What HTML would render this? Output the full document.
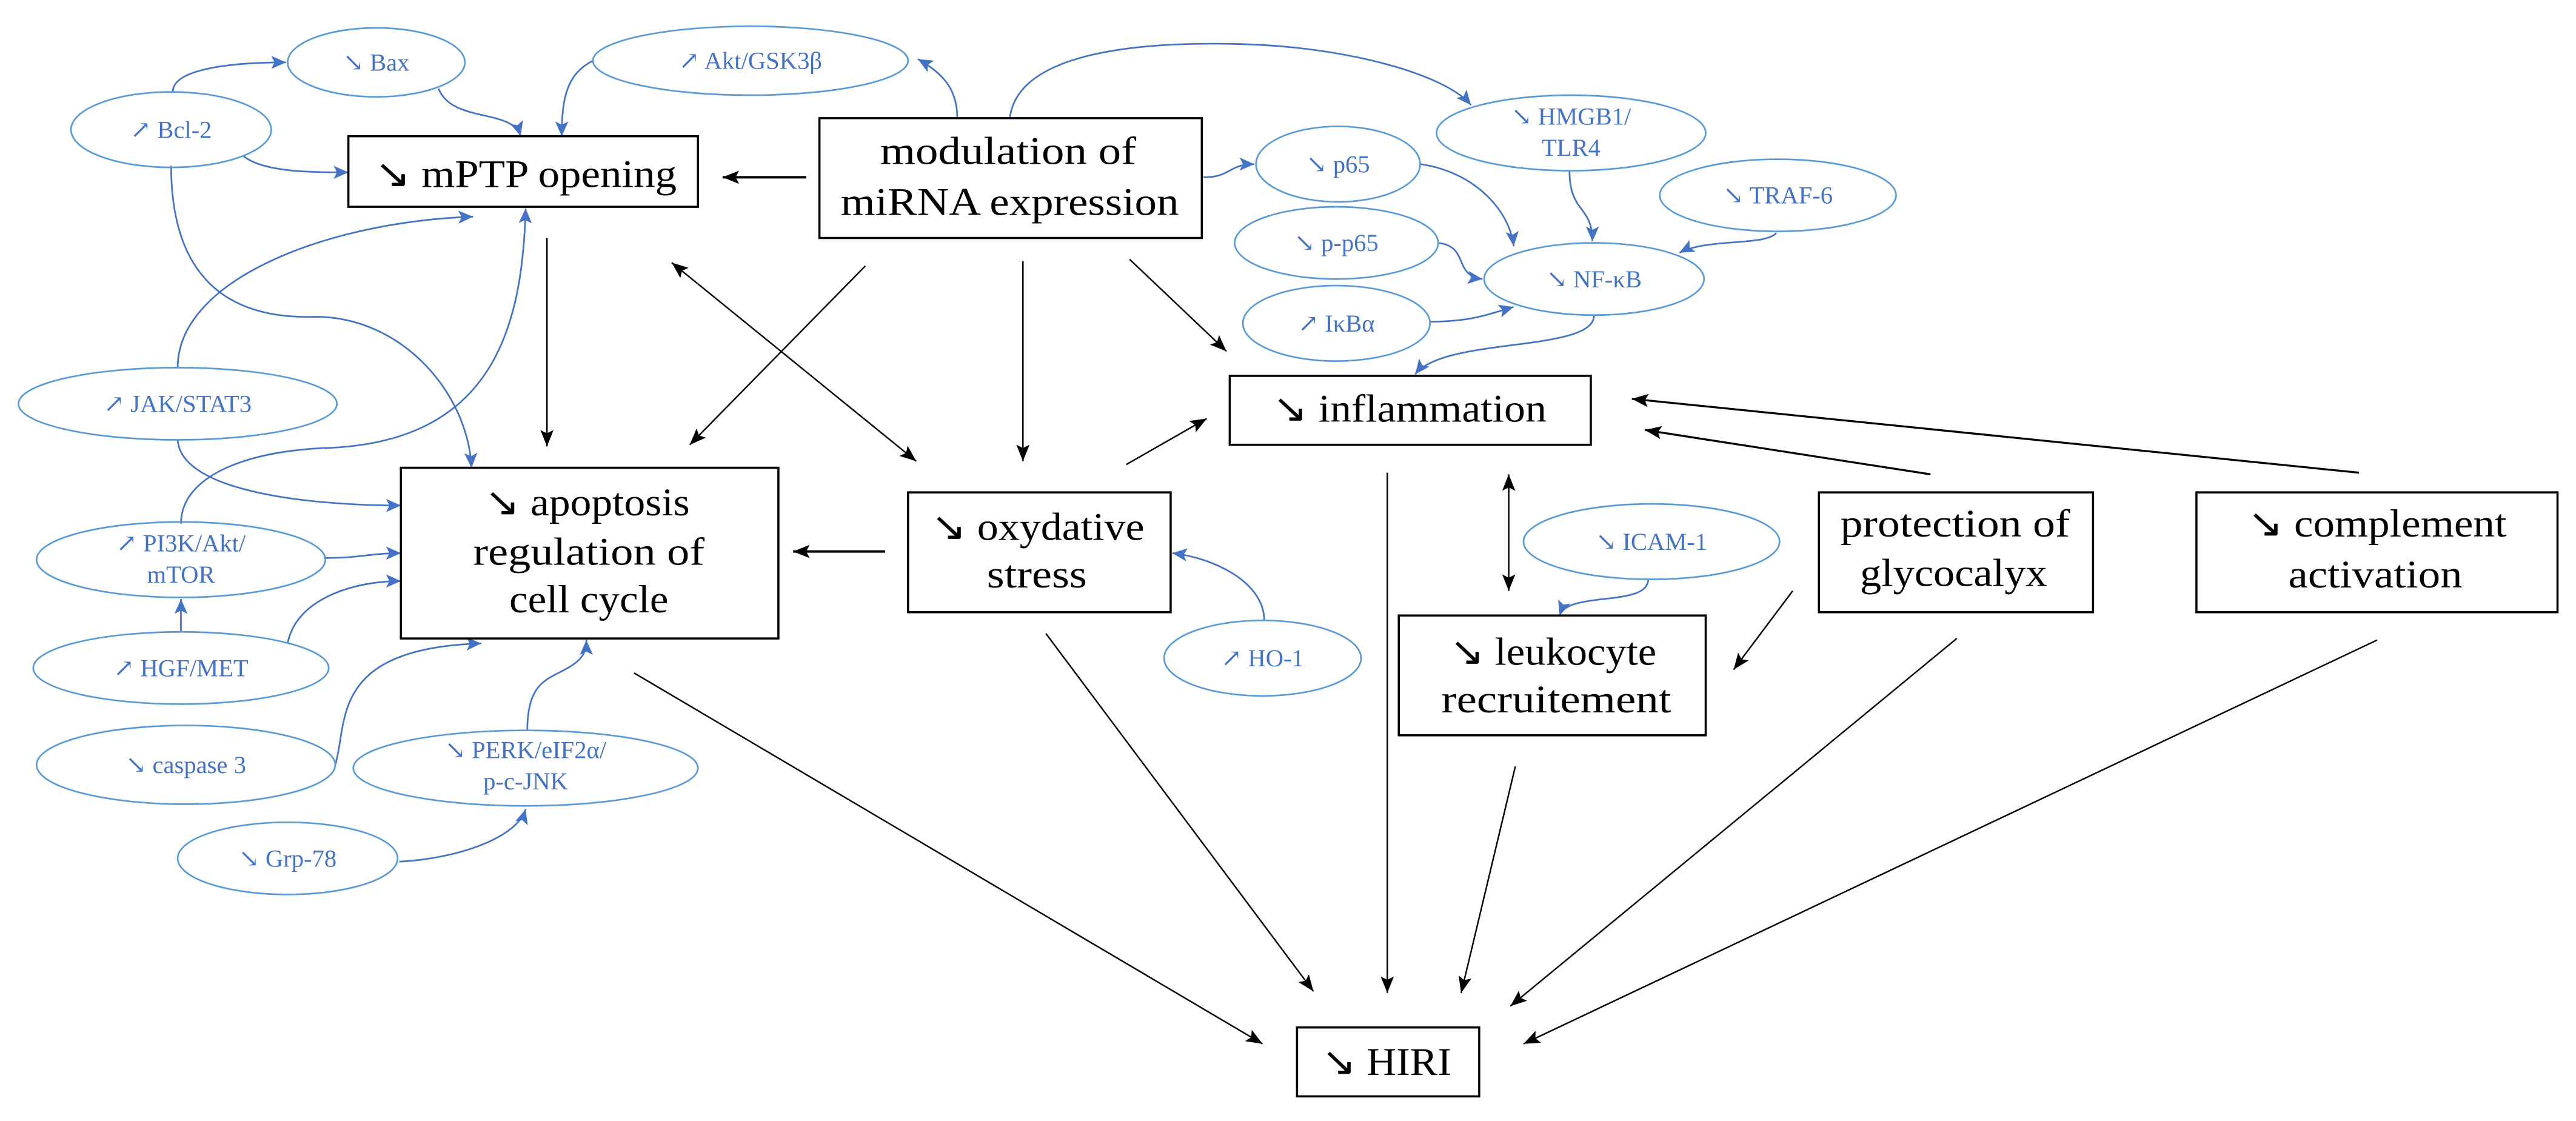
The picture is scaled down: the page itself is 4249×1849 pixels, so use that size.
<!DOCTYPE html>
<html><head><meta charset="utf-8"><style>
html,body{margin:0;padding:0;background:#fff;}
svg{display:block;}
.bt{font-family:"Liberation Serif",serif;font-size:24px;fill:#000;}
.lt{font-family:"Liberation Serif","DejaVu Serif",serif;font-size:15px;fill:#4472C4;text-anchor:middle;}
.el{fill:none;stroke:#5B9BD5;stroke-width:1;}
.bx{fill:#fff;stroke:#000;stroke-width:1.3;}
.k{fill:none;stroke:#000;stroke-width:0.9;marker-end:url(#ak);}
.kk{fill:none;stroke:#000;stroke-width:0.9;marker-end:url(#ak);marker-start:url(#aks);}
.b{fill:none;stroke:#4472C4;stroke-width:1;marker-end:url(#ab);}
</style></head><body>
<svg width="4249" height="1849" viewBox="0 0 1569 683" xmlns="http://www.w3.org/2000/svg">
<defs>
<marker id="ak" markerUnits="userSpaceOnUse" markerWidth="12" markerHeight="10" refX="10" refY="4" orient="auto"><path d="M0,0 L10,4 L0,8 L2,4 Z" fill="#000"/></marker>
<marker id="aks" markerUnits="userSpaceOnUse" markerWidth="12" markerHeight="10" refX="0" refY="4" orient="auto"><path d="M10,0 L0,4 L10,8 L8,4 Z" fill="#000"/></marker>
<marker id="ab" markerUnits="userSpaceOnUse" markerWidth="12" markerHeight="10" refX="9" refY="4" orient="auto"><path d="M0,0 L9,4 L0,8 L2,4 Z" fill="#4472C4"/></marker>
</defs>
<rect width="1569" height="683" fill="#fff"/>

<!-- black connectors -->
<path class="k" style="stroke-width:1.5" d="M491,108 L440,108"/>
<path class="k" d="M333,145 L333,272"/>
<path class="kk" d="M409,160 L558,281"/>
<path class="k" d="M527,162 L420,271"/>
<path class="k" d="M623,159 L623,281"/>
<path class="k" d="M688,158 L747,214"/>
<path class="k" d="M686,283 L735,255"/>
<path class="k" style="stroke-width:1.5" d="M539,336 L483,336"/>
<path class="k" d="M386,410 L769,636"/>
<path class="k" d="M637,386 L800,604"/>
<path class="k" d="M845,288 L845,605"/>
<path class="kk" d="M919,289 L919,360"/>
<path class="k" d="M923,467 L890,605"/>
<path class="k" d="M1192,389 L920,613"/>
<path class="k" d="M1448,390 L928,636"/>
<path class="k" d="M1092,360 L1056,408"/>
<path class="k" style="stroke-width:1.2" d="M1176,289 L1002,262"/>
<path class="k" style="stroke-width:1.2" d="M1437,288 L994,243"/>

<!-- blue connectors -->
<path class="b" d="M105,56 C105,42 140,38 174,38"/>
<path class="b" d="M148,95 C160,105 190,105 212,105"/>
<path class="b" d="M267,54 C275,75 312,66 317,83"/>
<path class="b" d="M361,37 C345,45 342,60 342,83"/>
<path class="b" d="M583,72 C583,55 575,45 559,36"/>
<path class="b" d="M615,72 C620,30 700,25 760,27 C820,29 880,45 896,64"/>
<path class="b" d="M733,108 C750,108 748,100 764,100"/>
<path class="b" d="M865,100 C900,105 920,130 922,150"/>
<path class="b" d="M956,104 C956,130 970,125 970,147"/>
<path class="b" d="M1082,142 C1075,150 1040,145 1023,154"/>
<path class="b" d="M876,148 C895,150 885,168 903,170"/>
<path class="b" d="M871,196 C895,196 905,192 922,187"/>
<path class="b" d="M971,192 C971,215 880,205 862,228"/>
<path class="b" d="M1004,353 C1004,370 955,360 950,375"/>
<path class="b" d="M770,378 C770,355 740,340 714,337"/>
<path class="b" d="M108,224 C108,170 200,135 288,132"/>
<path class="b" d="M108,268 C110,300 190,308 244,308"/>
<path class="b" d="M104,101 C104,160 130,195 192,193 C245,193 285,240 287,285"/>
<path class="b" d="M110,319 C110,290 150,275 197,273 C300,270 318,200 320,127"/>
<path class="b" d="M197,340 C220,340 225,337 244,337"/>
<path class="b" d="M110,385 L110,365"/>
<path class="b" d="M175,392 C180,365 215,354 244,354"/>
<path class="b" d="M204,466 C212,440 200,395 293,392"/>
<path class="b" d="M321,445 C321,420 330,415 340,410 C352,404 357,400 357,390"/>
<path class="b" d="M243,525 C280,523 315,510 320,493"/>

<!-- boxes -->
<rect class="bx" x="212" y="83" width="213" height="43"/>
<text class="bt" x="228" y="114" textLength="184" lengthAdjust="spacingAndGlyphs">↘ mPTP opening</text>
<rect class="bx" x="499" y="72" width="233" height="73"/>
<text class="bt" x="536" y="100" textLength="156" lengthAdjust="spacingAndGlyphs">modulation of</text>
<text class="bt" x="512" y="131" textLength="206" lengthAdjust="spacingAndGlyphs">miRNA expression</text>
<rect class="bx" x="244" y="285" width="230" height="104"/>
<text class="bt" x="295" y="314" textLength="125" lengthAdjust="spacingAndGlyphs">↘ apoptosis</text>
<text class="bt" x="288" y="344" textLength="141" lengthAdjust="spacingAndGlyphs">regulation of</text>
<text class="bt" x="310" y="373" textLength="97" lengthAdjust="spacingAndGlyphs">cell cycle</text>
<rect class="bx" x="553" y="300" width="160" height="73"/>
<text class="bt" x="567" y="329" textLength="130" lengthAdjust="spacingAndGlyphs">↘ oxydative</text>
<text class="bt" x="601" y="358" textLength="61" lengthAdjust="spacingAndGlyphs">stress</text>
<rect class="bx" x="749" y="229" width="220" height="42"/>
<text class="bt" x="775" y="257" textLength="167" lengthAdjust="spacingAndGlyphs">↘ inflammation</text>
<rect class="bx" x="852" y="375" width="187" height="73"/>
<text class="bt" x="883" y="405" textLength="126" lengthAdjust="spacingAndGlyphs">↘ leukocyte</text>
<text class="bt" x="878" y="434" textLength="140" lengthAdjust="spacingAndGlyphs">recruitement</text>
<rect class="bx" x="1108" y="300" width="167" height="73"/>
<text class="bt" x="1121" y="327" textLength="140" lengthAdjust="spacingAndGlyphs">protection of</text>
<text class="bt" x="1133" y="357" textLength="114" lengthAdjust="spacingAndGlyphs">glycocalyx</text>
<rect class="bx" x="1338" y="300" width="220" height="73"/>
<text class="bt" x="1369" y="327" textLength="158" lengthAdjust="spacingAndGlyphs">↘ complement</text>
<text class="bt" x="1394" y="358" textLength="106" lengthAdjust="spacingAndGlyphs">activation</text>
<rect class="bx" x="790" y="626" width="111" height="42"/>
<text class="bt" x="805" y="655" textLength="79" lengthAdjust="spacingAndGlyphs">↘ HIRI</text>

<!-- ellipses -->
<ellipse class="el" cx="229" cy="38" rx="54" ry="21"/><text class="lt" x="229" y="43">↘ Bax</text>
<ellipse class="el" cx="457" cy="37" rx="96" ry="21"/><text class="lt" x="457" y="42">↗ Akt/GSK3β</text>
<ellipse class="el" cx="104" cy="79" rx="61" ry="23"/><text class="lt" x="104" y="84">↗ Bcl-2</text>
<ellipse class="el" cx="108" cy="246" rx="97" ry="22"/><text class="lt" x="108" y="251">↗ JAK/STAT3</text>
<ellipse class="el" cx="110" cy="341" rx="88" ry="23"/><text class="lt" x="110" y="336">↗ PI3K/Akt/</text><text class="lt" x="110" y="355">mTOR</text>
<ellipse class="el" cx="110" cy="407" rx="90" ry="22"/><text class="lt" x="110" y="412">↗ HGF/MET</text>
<ellipse class="el" cx="113" cy="466" rx="91" ry="24"/><text class="lt" x="113" y="471">↘ caspase 3</text>
<ellipse class="el" cx="320" cy="468" rx="105" ry="23"/><text class="lt" x="320" y="462">↘ PERK/eIF2α/</text><text class="lt" x="320" y="481">p-c-JNK</text>
<ellipse class="el" cx="175" cy="523" rx="67" ry="22"/><text class="lt" x="175" y="528">↘ Grp-78</text>
<ellipse class="el" cx="769" cy="401" rx="60" ry="23"/><text class="lt" x="769" y="406">↗ HO-1</text>
<ellipse class="el" cx="957" cy="81" rx="82" ry="23"/><text class="lt" x="957" y="76">↘ HMGB1/</text><text class="lt" x="957" y="95">TLR4</text>
<ellipse class="el" cx="815" cy="100" rx="50" ry="23"/><text class="lt" x="815" y="105">↘ p65</text>
<ellipse class="el" cx="814" cy="148" rx="62" ry="22"/><text class="lt" x="814" y="153">↘ p-p65</text>
<ellipse class="el" cx="814" cy="197" rx="57" ry="23"/><text class="lt" x="814" y="202">↗ IκBα</text>
<ellipse class="el" cx="971" cy="170" rx="67" ry="22"/><text class="lt" x="971" y="175">↘ NF-κB</text>
<ellipse class="el" cx="1083" cy="119" rx="72" ry="22"/><text class="lt" x="1083" y="124">↘ TRAF-6</text>
<ellipse class="el" cx="1006" cy="330" rx="78" ry="23"/><text class="lt" x="1006" y="335">↘ ICAM-1</text>
</svg>
</body></html>
